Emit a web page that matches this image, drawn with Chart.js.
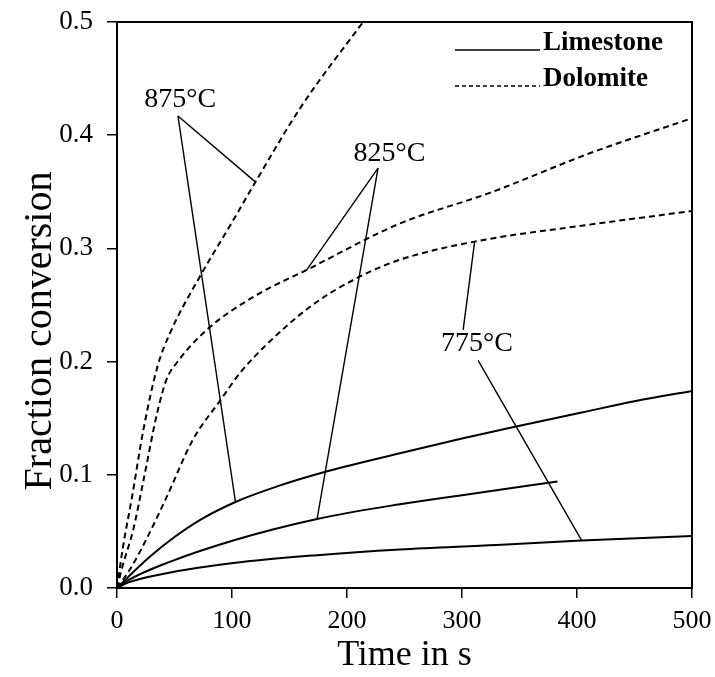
<!DOCTYPE html>
<html><head><meta charset="utf-8">
<script src="https://cdn.jsdelivr.net/npm/chart.js@4"></script>
<style>html,body{margin:0;padding:0;background:#fff;}#wrap{width:715px;height:677px;}</style>
</head><body><div id="wrap"><canvas id="c" width="715" height="677"></canvas></div>
<script>
// ---- data ----
const xTicks = [0, 100, 200, 300, 400, 500];
const yTicks = [0.0, 0.1, 0.2, 0.3, 0.4, 0.5];

const limestone875T = [0, 10, 29, 50, 72, 103, 140, 179, 246, 300, 344, 404, 450, 500];
const limestone875Y = [0, 0.010, 0.028, 0.045, 0.060, 0.076, 0.090, 0.102, 0.119, 0.132, 0.142, 0.155, 0.165, 0.174];

const limestone825T = [0, 10, 43, 101, 174, 246, 300, 383];
const limestone825Y = [0, 0.007, 0.022, 0.042, 0.061, 0.074, 0.082, 0.094];

const limestone775T = [0, 10, 43, 101, 174, 246, 330, 404, 500];
const limestone775Y = [0, 0.005, 0.013, 0.022, 0.029, 0.034, 0.038, 0.042, 0.046];

const dolomite875T = [0, 5, 13, 23, 35, 46, 72, 100, 120, 160, 214, 240];
const dolomite875Y = [0, 0.035, 0.080, 0.140, 0.195, 0.225, 0.275, 0.323, 0.358, 0.425, 0.500, 0.535];

const dolomite825T = [0, 5, 14, 23, 35, 43, 52, 78, 120, 165, 246, 324, 411, 500];
const dolomite825Y = [0, 0.020, 0.051, 0.095, 0.155, 0.184, 0.199, 0.228, 0.258, 0.281, 0.322, 0.349, 0.384, 0.415];

const dolomite775T = [0, 11, 25, 43, 66, 90, 107, 130, 170, 211, 246, 311, 411, 500];
const dolomite775Y = [0, 0.016, 0.042, 0.080, 0.131, 0.166, 0.190, 0.215, 0.250, 0.275, 0.290, 0.306, 0.321, 0.333];

// annotation labels (text, time, fraction) and leader lines [t1,y1,t2,y2]
const labelTexts = ["875°C", "825°C", "775°C"];
const labelT = [55, 237, 313];
const labelY = [0.431, 0.384, 0.216];
const leaders = [
  [53, 0.417, 120, 0.359],
  [53, 0.417, 103, 0.076],
  [227, 0.371, 165, 0.281],
  [227, 0.371, 174, 0.061],
  [301, 0.228, 311, 0.306],
  [314, 0.201, 404, 0.042]
];
const legendNames = ["Limestone", "Dolomite"];
const xTitle = "Time in s";
const yTitle = "Fraction conversion";

// ---- build datasets ----
function pts(T, Y) { return T.map((t, i) => ({x: t, y: Y[i]})); }
const FONT = "'Liberation Serif', 'Times New Roman', serif";
const curves = [
  {T: limestone875T, Y: limestone875Y, dash: []},
  {T: limestone825T, Y: limestone825Y, dash: []},
  {T: limestone775T, Y: limestone775Y, dash: []},
  {T: dolomite875T, Y: dolomite875Y, dash: [6, 4]},
  {T: dolomite825T, Y: dolomite825Y, dash: [6, 4]},
  {T: dolomite775T, Y: dolomite775Y, dash: [6, 4]}
];
const datasets = curves.map(c => ({
  data: pts(c.T, c.Y), borderColor: '#000', borderWidth: 2, borderDash: c.dash,
  pointRadius: 0, fill: false, cubicInterpolationMode: 'monotone'
}));
leaders.forEach(s => datasets.push({
  data: [{x: s[0], y: s[1]}, {x: s[2], y: s[3]}], borderColor: '#000', borderWidth: 1.4,
  pointRadius: 0, fill: false, tension: 0
}));

const decor = {
  id: 'decor',
  afterDatasetsDraw(chart) {
    const ctx = chart.ctx, a = chart.chartArea, xs = chart.scales.x, ys = chart.scales.y;
    ctx.save();
    ctx.strokeStyle = '#000'; ctx.lineWidth = 2;
    ctx.strokeRect(a.left, a.top, a.right - a.left, a.bottom - a.top);
    // labels
    ctx.fillStyle = '#000'; ctx.textBaseline = 'middle'; ctx.textAlign = 'center';
    ctx.font = '28px ' + FONT;
    labelTexts.forEach((t, i) => ctx.fillText(t, xs.getPixelForValue(labelT[i]), ys.getPixelForValue(labelY[i])));
    // legend
    const lx1 = a.left + 338, lx2 = a.left + 423;
    const rows = [a.top + 21, a.top + 57];
    ctx.lineWidth = 1.6;
    rows.forEach((ry, i) => {
      ctx.setLineDash(i === 0 ? [] : [4, 3]);
      ctx.beginPath(); ctx.moveTo(lx1, ry + 7); ctx.lineTo(lx2, ry + 7); ctx.stroke();
      ctx.setLineDash([]);
      ctx.textAlign = 'left'; ctx.font = 'bold 27px ' + FONT;
      ctx.fillText(legendNames[i], lx2 + 3, ry);
    });
    // y axis title
    ctx.translate(40, (a.top + a.bottom) / 2 + 26);
    ctx.rotate(-Math.PI / 2);
    ctx.textAlign = 'center';
    ctx.font = '40px ' + FONT;
    ctx.fillText(yTitle, 0, 0);
    ctx.restore();
  }
};

new Chart(document.getElementById('c'), {
  type: 'line',
  data: {datasets},
  options: {
    responsive: false, animation: false, devicePixelRatio: 1,
    layout: {padding: {top: 22, right: 23, left: 0, bottom: 0}},
    plugins: {legend: {display: false}, tooltip: {enabled: false}},
    scales: {
      x: {
        type: 'linear', min: 0, max: 500,
        afterBuildTicks: s => { s.ticks = xTicks.map(v => ({value: v})); },
        afterFit: s => { s.height = 89; s.paddingLeft = 0; s.paddingRight = 0; },
        grid: {drawOnChartArea: false, tickLength: 10, color: '#000', lineWidth: 1.5},
        border: {color: '#000', width: 2},
        ticks: {color: '#000', font: {family: FONT, size: 26}, padding: 8, maxRotation: 0},
        title: {display: true, text: xTitle, color: '#000', font: {family: FONT, size: 36}, padding: {top: 0, bottom: 0}}
      },
      y: {
        type: 'linear', min: 0, max: 0.5,
        afterBuildTicks: s => { s.ticks = yTicks.map(v => ({value: v})); },
        afterFit: s => { s.width = 117; s.paddingTop = 0; s.paddingBottom = 0; },
        grid: {drawOnChartArea: false, tickLength: 10, color: '#000', lineWidth: 1.5},
        border: {color: '#000', width: 2},
        ticks: {color: '#000', font: {family: FONT, size: 27}, padding: 14, callback: v => v.toFixed(1)},
        title: {display: false}
      }
    }
  },
  plugins: [decor]
});
</script></body></html>
